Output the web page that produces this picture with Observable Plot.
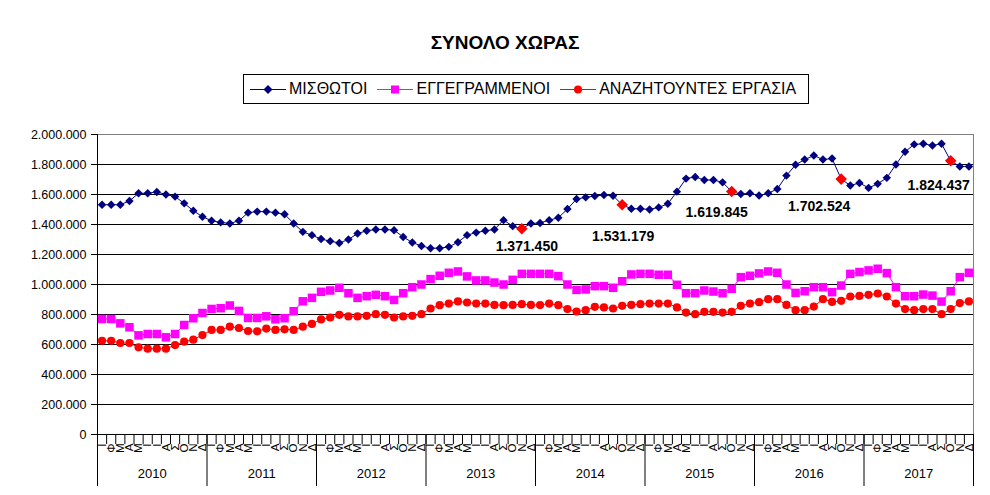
<!DOCTYPE html>
<html><head><meta charset="utf-8">
<script src="https://cdn.jsdelivr.net/npm/d3@7"></script>
<script src="https://cdn.jsdelivr.net/npm/@observablehq/plot@0.6"></script>
<style>
body{margin:0;background:#fff;font-family:Arial,"Liberation Sans",sans-serif;}
#wrap{position:relative;width:990px;height:495px;overflow:hidden;background:#fff;}
#title{position:absolute;top:31px;left:305px;width:400px;text-align:center;font-weight:bold;font-size:19px;line-height:24px;}
#legend{position:absolute;left:243px;top:74px;width:566px;height:30px;box-sizing:border-box;border:1px solid #000;display:flex;align-items:center;padding-left:6px;font-size:16px;white-space:nowrap;}
.item{display:flex;align-items:center;margin-right:10px;}
.item svg{margin-right:3px;}
#chart{position:absolute;left:0;top:110px;}
</style></head>
<body><div id="wrap"><div id="title"></div><div id="legend"></div><div id="chart"></div></div>
<script>
const title = "ΣΥΝΟΛΟ ΧΩΡΑΣ";
const seriesNames = ["ΜΙΣΘΩΤΟΙ", "ΕΓΓΕΓΡΑΜΜΕΝΟΙ", "ΑΝΑΖΗΤΟΥΝΤΕΣ ΕΡΓΑΣΙΑ"];
const years = ["2010", "2011", "2012", "2013", "2014", "2015", "2016", "2017"];
const monthLetters = ["Ι", "Φ", "Μ", "Α", "Μ", "Ι", "Ι", "Α", "Σ", "Ο", "Ν", "Δ"];
const yTicks = [0, 200000, 400000, 600000, 800000, 1000000, 1200000, 1400000, 1600000, 1800000, 2000000];

const misthotoi = [
  1532000, 1532000, 1532000, 1557000, 1608000, 1608000, 1617000, 1600000, 1586000, 1541000, 1492000, 1452000,
  1425000, 1414000, 1407000, 1425000, 1479000, 1486000, 1486000, 1479000, 1468000, 1407000, 1351000, 1329000,
  1303000, 1289000, 1277000, 1300000, 1340000, 1358000, 1367000, 1367000, 1362000, 1317000, 1280000, 1257000,
  1242000, 1242000, 1251000, 1282000, 1329000, 1346000, 1358000, 1367000, 1429000, 1389000, 1371450, 1407000,
  1410000, 1429000, 1445000, 1503000, 1570000, 1581000, 1590000, 1597000, 1592000, 1531179, 1505000, 1505000,
  1500000, 1514000, 1538000, 1619000, 1706000, 1717000, 1697000, 1697000, 1681000, 1619845, 1603000, 1608000,
  1593000, 1608000, 1637000, 1726000, 1798000, 1833000, 1860000, 1833000, 1840000, 1702524, 1660000, 1677000,
  1644000, 1671000, 1711000, 1800000, 1885000, 1934000, 1938000, 1927000, 1938000, 1824437, 1787000, 1787000
];
const eggegrammenoi = [
  770000, 770000, 741000, 715000, 661000, 670000, 670000, 648000, 670000, 730000, 775000, 810000,
  837000, 842000, 860000, 824000, 777000, 777000, 788000, 768000, 775000, 822000, 888000, 911000,
  951000, 960000, 978000, 942000, 911000, 922000, 931000, 922000, 897000, 942000, 982000, 1000000,
  1036000, 1058000, 1078000, 1087000, 1054000, 1027000, 1027000, 1013000, 1000000, 1031000, 1071000, 1071000,
  1071000, 1071000, 1056000, 1000000, 964000, 967000, 989000, 989000, 978000, 1022000, 1067000, 1071000,
  1071000, 1065000, 1065000, 998000, 942000, 942000, 960000, 953000, 942000, 971000, 1049000, 1058000,
  1074000, 1087000, 1078000, 1000000, 944000, 955000, 982000, 982000, 949000, 993000, 1071000, 1083000,
  1094000, 1105000, 1076000, 982000, 922000, 922000, 933000, 926000, 886000, 955000, 1049000, 1078000
];
const anazitountes = [
  625000, 625000, 610000, 610000, 581000, 572000, 572000, 572000, 596000, 619000, 632000, 663000,
  697000, 697000, 719000, 710000, 690000, 688000, 706000, 697000, 701000, 697000, 719000, 737000,
  767000, 780000, 798000, 787000, 787000, 791000, 802000, 798000, 780000, 787000, 791000, 802000,
  840000, 862000, 873000, 887000, 880000, 873000, 873000, 864000, 862000, 864000, 869000, 864000,
  863000, 873000, 862000, 836000, 820000, 829000, 851000, 847000, 840000, 858000, 864000, 869000,
  873000, 873000, 873000, 847000, 813000, 802000, 818000, 818000, 813000, 818000, 858000, 873000,
  882000, 902000, 902000, 864000, 829000, 829000, 853000, 902000, 884000, 891000, 920000, 924000,
  931000, 940000, 920000, 873000, 836000, 829000, 836000, 836000, 802000, 836000, 876000, 887000
];
// months (index into the series) whose ΜΙΣΘΩΤΟΙ value is marked and labelled
const highlightMonths = [46, 57, 69, 81, 93];

// ---- styling (not data) ----
const colors = ["#000080", "#FF00FF", "#FF0000"];
const labelOffsets = [[5, 18], [1, 32], [-15, 21], [-22, 27], [-12, 25]];

const fmt = d => d3.format(",")(d).replace(/,/g, ".");
const nMonths = misthotoi.length;
const rows = d3.range(nMonths).map(i => ({i, m: misthotoi[i], e: eggegrammenoi[i], a: anazitountes[i]}));
const xc = i => i + 0.5;

document.getElementById("title").textContent = title;

// legend
const legend = document.getElementById("legend");
const symbolsSvg = [
  c => `<path d="M18,1 L22.5,5.5 L18,10 L13.5,5.5 Z" fill="${c}"/>`,
  c => `<rect x="14" y="1.5" width="8" height="8" fill="${c}"/>`,
  c => `<circle cx="18" cy="5.5" r="4" fill="${c}"/>`
];
seriesNames.forEach((name, k) => {
  const it = document.createElement("div");
  it.className = "item";
  it.innerHTML = `<svg width="36" height="11"><line x1="0" x2="36" y1="5.5" y2="5.5" stroke="${colors[k]}" stroke-width="1"/>${symbolsSvg[k](colors[k])}</svg>`;
  const s = document.createElement("span");
  s.textContent = name;
  it.appendChild(s);
  legend.appendChild(it);
});

const plot = Plot.plot({
  width: 990,
  height: 380,
  marginLeft: 97,
  marginRight: 17,
  marginTop: 24,
  marginBottom: 56,
  style: {fontFamily: "Arial, 'Liberation Sans', sans-serif", fontSize: "12px", color: "#000", background: "transparent", overflow: "visible"},
  x: {domain: [0, nMonths], axis: null},
  y: {domain: [0, 2000000], axis: null},
  marks: [
    Plot.gridY(yTicks, {stroke: "#000", strokeOpacity: 1}),
    Plot.ruleY([2000000], {stroke: "#808080"}),
    Plot.ruleX([nMonths], {stroke: "#808080"}),
    Plot.ruleX([0], {stroke: "#000"}),
    Plot.axisY({ticks: yTicks, tickFormat: fmt, tickSize: 6, tickPadding: 5, fontSize: 12.5, label: null}),
    Plot.axisX({ticks: d3.range(0, nMonths + 1), tickSize: 10, tickFormat: () => "", label: null}),
    Plot.axisX({ticks: d3.range(0, nMonths + 1, 12), tickSize: 52, tickFormat: () => "", label: null}),
    Plot.ruleY([0], {stroke: "#000"}),
    Plot.text(rows, {x: d => xc(d.i), text: d => monthLetters[d.i % 12], frameAnchor: "bottom", rotate: -90, textAnchor: "end", lineAnchor: "middle", dy: 9, fontSize: 11.5}),
    Plot.text(years.map((y, k) => ({y, k})), {x: d => d.k * 12 + 6, text: "y", frameAnchor: "bottom", dy: 43, fontSize: 13}),
    Plot.line(rows, {x: d => xc(d.i), y: "a", stroke: colors[2], strokeWidth: 1}),
    Plot.dot(rows, {x: d => xc(d.i), y: "a", symbol: "circle", r: 4.1, fill: colors[2]}),
    Plot.line(rows, {x: d => xc(d.i), y: "e", stroke: colors[1], strokeWidth: 1}),
    Plot.dot(rows, {x: d => xc(d.i), y: "e", symbol: "square", r: 4.8, fill: colors[1]}),
    Plot.line(rows, {x: d => xc(d.i), y: "m", stroke: colors[0], strokeWidth: 1}),
    Plot.dot(rows, {x: d => xc(d.i), y: "m", symbol: "diamond2", r: 3.8, fill: colors[0]}),
    Plot.dot(highlightMonths, {x: d => xc(d), y: d => misthotoi[d], symbol: "diamond2", r: 5.2, fill: "#FF0000"}),
    ...highlightMonths.map((idx, k) => Plot.text([idx], {
      x: d => xc(d), y: d => misthotoi[d], text: d => fmt(misthotoi[d]),
      dx: labelOffsets[k][0], dy: labelOffsets[k][1], fontWeight: "bold", fontSize: 14
    }))
  ]
});
document.getElementById("chart").appendChild(plot);
</script></body></html>
